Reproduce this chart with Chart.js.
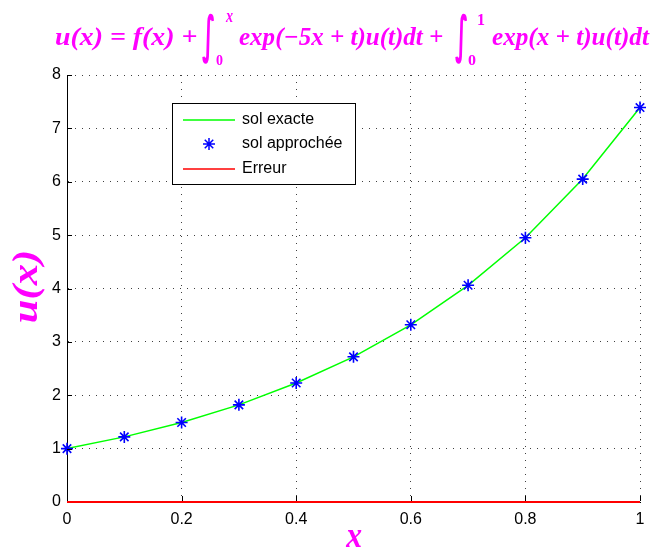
<!DOCTYPE html>
<html><head><meta charset="utf-8">
<script src="https://cdn.jsdelivr.net/npm/chart.js@4.4.0/dist/chart.umd.min.js"></script>
<style>html,body{margin:0;padding:0;background:#fff}#c{display:block}</style>
</head><body>
<canvas id="c" width="655" height="550"></canvas>
<script>
const xValues = [0, 0.1, 0.2, 0.3, 0.4, 0.5, 0.6, 0.7, 0.8, 0.9, 1.0];
const exactValues = [1.00, 1.22, 1.49, 1.82, 2.23, 2.72, 3.32, 4.06, 4.95, 6.05, 7.39];
const approxValues = [1.00, 1.22, 1.49, 1.82, 2.23, 2.72, 3.32, 4.06, 4.95, 6.05, 7.39];
const errorValues = [0, 0, 0, 0, 0, 0, 0, 0, 0, 0, 0];
const xTicks = [0, 0.2, 0.4, 0.6, 0.8, 1];
const yTicks = [0, 1, 2, 3, 4, 5, 6, 7, 8];
const legendLabels = ['sol exacte', 'sol approchée', 'Erreur'];
const titleParts = ['u(x) = f(x) +', 'exp(\u22125x + t)u(t)dt +', 'exp(x + t)u(t)dt'];
const yTitle = 'u(x)';
const xTitle = 'x';

const MAGENTA = '#ff00ff';
const toPts = ys => xValues.map((x, i) => ({x: x, y: ys[i]}));

function fitText(ctx, text, font, left, right, baseline) {
  ctx.font = font;
  const m = ctx.measureText(text);
  const w = m.actualBoundingBoxLeft + m.actualBoundingBoxRight;
  ctx.save();
  ctx.translate(left, baseline);
  ctx.scale((right - left) / w, 1);
  ctx.textAlign = 'left'; ctx.textBaseline = 'alphabetic';
  ctx.fillText(text, m.actualBoundingBoxLeft, 0);
  ctx.restore();
}
function fitBox(ctx, text, font, l, t, r, b) {
  ctx.font = font;
  ctx.textAlign = 'left'; ctx.textBaseline = 'alphabetic';
  const m = ctx.measureText(text);
  const w = m.actualBoundingBoxLeft + m.actualBoundingBoxRight;
  const h = m.actualBoundingBoxAscent + m.actualBoundingBoxDescent;
  ctx.save();
  ctx.translate(l, t);
  ctx.scale((r - l) / w, (b - t) / h);
  ctx.fillText(text, m.actualBoundingBoxLeft, m.actualBoundingBoxAscent);
  ctx.restore();
}
function star(ctx, x, y, r) {
  ctx.beginPath();
  for (let k = 0; k < 4; k++) {
    const a = k * Math.PI / 4;
    ctx.moveTo(x - r * Math.cos(a), y - r * Math.sin(a));
    ctx.lineTo(x + r * Math.cos(a), y + r * Math.sin(a));
  }
  ctx.stroke();
}

const decorPlugin = {
  id: 'decor',
  afterDraw(chart) {
    const ctx = chart.ctx;
    const xs = chart.scales.x, ys = chart.scales.y;
    const a = chart.chartArea;
    // inward tick marks
    ctx.save();
    ctx.strokeStyle = '#000'; ctx.lineWidth = 1;
    ctx.beginPath();
    ys.ticks.forEach(t => {
      if (t.value === 0) return;
      const py = Math.round(ys.getPixelForValue(t.value)) + 0.5;
      ctx.moveTo(a.left, py); ctx.lineTo(a.left + 5, py);
    });
    xs.ticks.forEach(t => {
      const px = Math.round(xs.getPixelForValue(t.value)) + 0.5;
      ctx.moveTo(px, a.bottom - 1); ctx.lineTo(px, a.bottom - 6);
    });
    ctx.stroke();
    ctx.restore();

    // title
    ctx.save();
    ctx.fillStyle = MAGENTA;
    const tf = 'bold italic 25px "Liberation Serif"';
    fitText(ctx, titleParts[0], tf, 55, 197, 45);
    fitBox(ctx, '\u222B', 'bold 40px "DejaVu Sans"', 202, 13, 214, 65);
    fitBox(ctx, 'x', 'bold italic 16px "Liberation Serif"', 225, 13, 233, 22);
    fitBox(ctx, '0', 'bold 16px "Liberation Serif"', 216, 55, 223, 65);
    fitText(ctx, titleParts[1], tf, 239, 443, 45);
    fitBox(ctx, '\u222B', 'bold 40px "DejaVu Sans"', 455, 13, 467, 65);
    fitBox(ctx, '1', 'bold 16px "Liberation Serif"', 478, 13, 485, 25);
    fitBox(ctx, '0', 'bold 16px "Liberation Serif"', 468, 55, 476, 65);
    fitText(ctx, titleParts[2], tf, 492, 650, 45);

    // axis titles
    fitBox(ctx, xTitle, 'bold italic 28px "Liberation Serif"', 345, 530, 362, 547);
    ctx.save();
    ctx.translate(12, 322);
    ctx.rotate(-Math.PI / 2);
    fitBox(ctx, yTitle, 'bold italic 32px "Liberation Serif"', 0, 0, 70, 33);
    ctx.restore();
    ctx.restore();

    // legend
    ctx.save();
    ctx.fillStyle = '#fff';
    ctx.fillRect(172, 103, 183, 81);
    ctx.strokeStyle = '#000'; ctx.lineWidth = 1;
    ctx.strokeRect(172.5, 103.5, 183, 81);
    const rows = [120, 144, 169];
    ctx.lineWidth = 1.5;
    ctx.strokeStyle = '#00ff00';
    ctx.beginPath(); ctx.moveTo(183, rows[0]); ctx.lineTo(235, rows[0]); ctx.stroke();
    ctx.strokeStyle = '#0000ff';
    star(ctx, 209, rows[1], 6);
    ctx.strokeStyle = '#ff0000';
    ctx.beginPath(); ctx.moveTo(183, rows[2]); ctx.lineTo(235, rows[2]); ctx.stroke();
    ctx.fillStyle = '#000';
    ctx.font = '16px "Liberation Sans"';
    ctx.textAlign = 'left'; ctx.textBaseline = 'middle';
    legendLabels.forEach((s, i) => ctx.fillText(s, 242, rows[i]));
    ctx.restore();
  }
};

const gridOpts = {color: 'rgba(0,0,0,0.75)', lineWidth: 1, drawTicks: false};
const borderOpts = {display: true, color: '#000', width: 1, dash: [1, 6], z: -1};
const tickFont = {family: '"Liberation Sans", Arial, sans-serif', size: 16};

new Chart(document.getElementById('c'), {
  type: 'line',
  data: {
    datasets: [
      {label: legendLabels[1], data: toPts(approxValues), showLine: false,
       pointStyle: 'star', pointRadius: 6, pointBorderWidth: 1.6,
       borderColor: '#0000ff', backgroundColor: '#0000ff', clip: false, order: 0},
      {label: legendLabels[0], data: toPts(exactValues), borderColor: '#00ff00',
       borderWidth: 1.5, pointRadius: 0, tension: 0, fill: false, order: 1},
      {label: legendLabels[2], data: toPts(errorValues), borderColor: '#ff0000',
       backgroundColor: '#ff0000', borderWidth: 2, pointRadius: 0, tension: 0,
       fill: false, clip: false, order: 2}
    ]
  },
  options: {
    responsive: false, animation: false, devicePixelRatio: 1,
    layout: {padding: {top: 75, right: 15, left: 0, bottom: 0}},
    plugins: {legend: {display: false}, title: {display: false}, tooltip: {enabled: false}},
    scales: {
      x: {
        type: 'linear', min: 0, max: 1,
        afterBuildTicks: s => { s.ticks = xTicks.map(v => ({value: v})); },
        afterFit: s => { s.height = 48; },
        ticks: {color: '#000', font: tickFont, padding: 8, maxRotation: 0, callback: v => String(v)},
        grid: gridOpts, border: borderOpts
      },
      y: {
        type: 'linear', min: 0, max: 8,
        afterBuildTicks: s => { s.ticks = yTicks.map(v => ({value: v})); },
        afterFit: s => { s.width = 67; },
        ticks: {color: '#000', font: tickFont, padding: 6, callback: v => String(v)},
        grid: gridOpts, border: borderOpts
      }
    }
  },
  plugins: [decorPlugin]
});
</script>
</body></html>
